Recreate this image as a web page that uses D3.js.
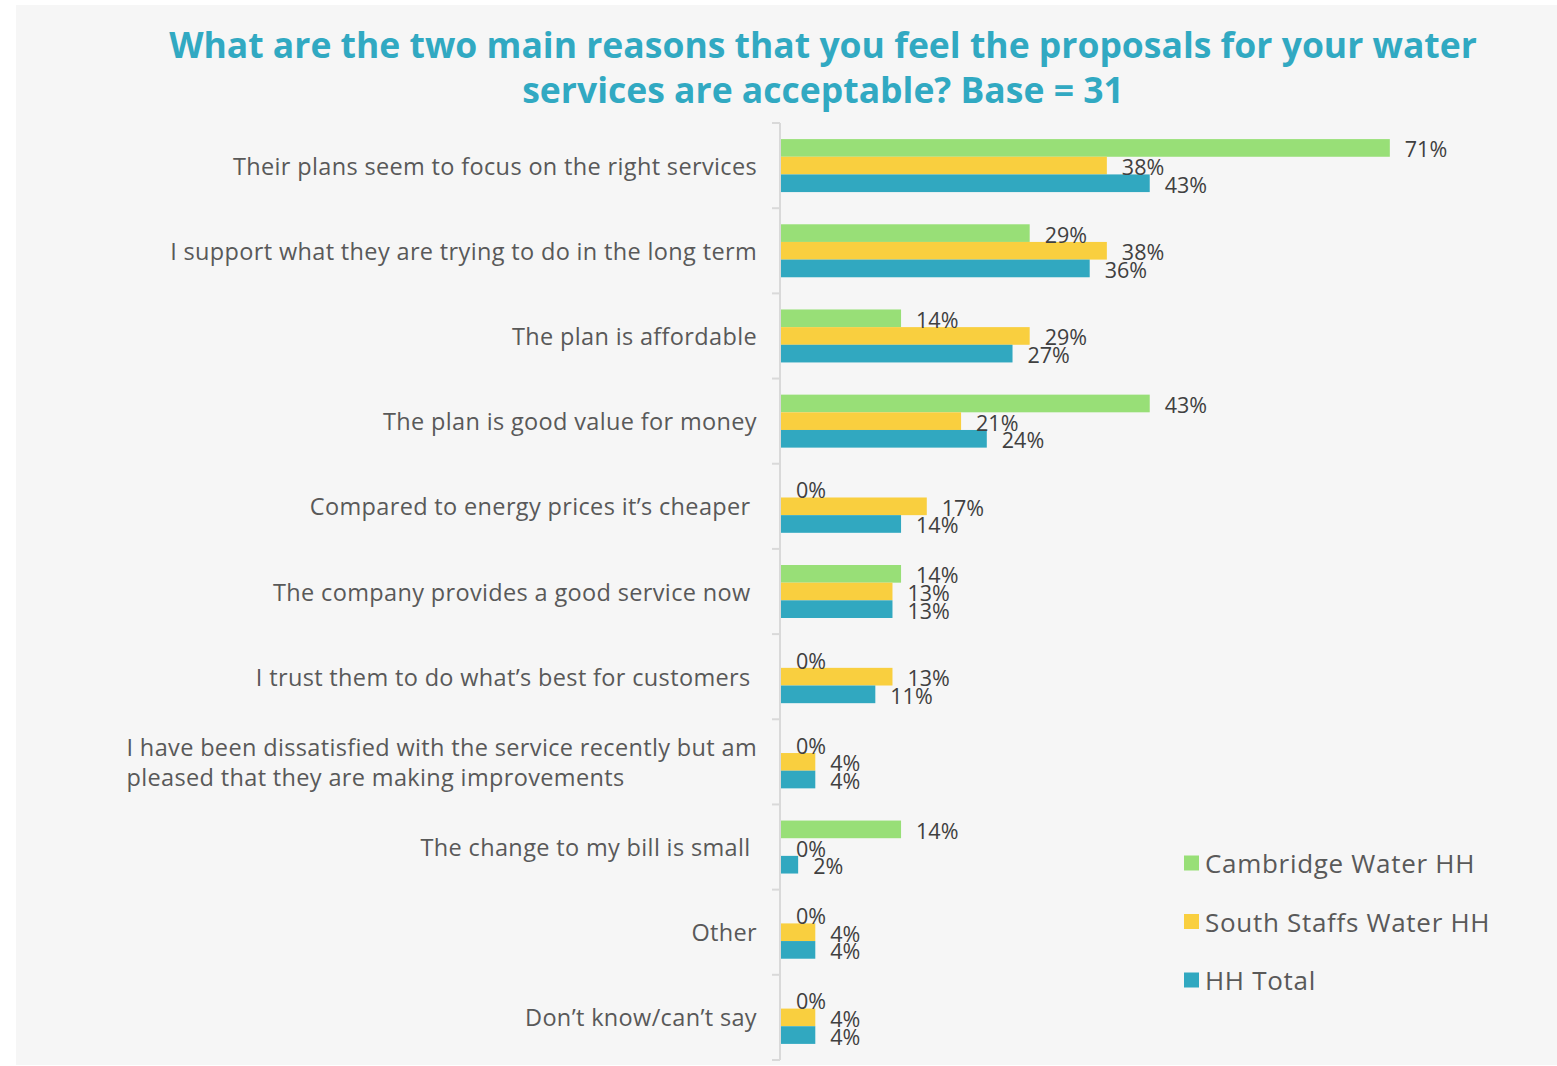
<!DOCTYPE html>
<html>
<head>
<meta charset="utf-8">
<script src="https://cdn.jsdelivr.net/npm/d3@7"></script>
<style>
  html, body { margin: 0; padding: 0; background: #ffffff; }
  svg { display: block; }
  text { font-family: "Open Sans", "DejaVu Sans", sans-serif; }
</style>
</head>
<body>
<svg id="chart" width="1557" height="1066"></svg>
<script>
// Survey answers, percentage of respondents per group
const categories = [
  "Their plans seem to focus on the right services",
  "I support what they are trying to do in the long term",
  "The plan is affordable",
  "The plan is good value for money",
  "Compared to energy prices it’s cheaper ",
  "The company provides a good service now ",
  "I trust them to do what’s best for customers ",
  "I have been dissatisfied with the service recently but am\npleased that they are making improvements",
  "The change to my bill is small ",
  "Other",
  "Don’t know/can’t say"
];
const seriesNames = ["Cambridge Water HH", "South Staffs Water HH", "HH Total"];
const cambridge   = [71, 29, 14, 43, 0, 14, 0, 0, 14, 0, 0];
const southStaffs = [38, 38, 29, 21, 17, 13, 13, 4, 0, 4, 4];
const hhTotal     = [43, 36, 27, 24, 14, 13, 11, 4, 2, 4, 4];
const seriesColors = ["#98df77", "#f9cf3f", "#31a8c0"];
const titleLines = [
  "What are the two main reasons that you feel the proposals for your water",
  "services are acceptable? Base = 31"
];

const seriesValues = [cambridge, southStaffs, hhTotal];
const rows = categories.map((c, i) => ({
  category: c,
  values: seriesNames.map((s, k) => ({ series: s, value: seriesValues[k][i], color: seriesColors[k] }))
}));

const svg = d3.select("#chart");

// panel background
svg.append("rect")
  .attr("x", 16).attr("y", 5).attr("width", 1541).attr("height", 1060)
  .attr("fill", "#f6f6f6");

// title
svg.append("g").selectAll("text").data(titleLines).join("text")
  .attr("x", 823)
  .attr("y", (d, i) => 58 + i * 45)
  .attr("text-anchor", "middle")
  .attr("font-size", 35.5)
  .attr("font-weight", 700)
  .attr("fill", "#31a9c2")
  .text(d => d);

// scales
const x = d3.scaleLinear().domain([0, 80]).range([780, 1466]);
const y = d3.scaleBand().domain(categories).range([123, 1060])
  .paddingInner(0.378).paddingOuter(0.189);
const ySub = d3.scaleBand().domain(seriesNames).range([0, y.bandwidth()]);

// category axis: line with ticks between categories
const axisG = svg.append("g");
axisG.append("line")
  .attr("x1", x(0)).attr("x2", x(0))
  .attr("y1", y.range()[0]).attr("y2", y.range()[1])
  .attr("stroke", "#d9d9d9").attr("stroke-width", 2);
const step = y.step();
axisG.selectAll("line.tick").data(d3.range(categories.length + 1)).join("line")
  .attr("class", "tick")
  .attr("x1", x(0) - 8).attr("x2", x(0))
  .attr("y1", i => y.range()[0] + i * step)
  .attr("y2", i => y.range()[0] + i * step)
  .attr("stroke", "#d9d9d9").attr("stroke-width", 2);

// category labels (right aligned; wrapped label keeps its lines left aligned)
const labelX = 757;
rows.forEach(r => {
  const lines = r.category.split("\n");
  const cy = y(r.category) + y.bandwidth() / 2;
  const lh = 30;
  const g = svg.append("g");
  const texts = lines.map((ln, j) => g.append("text")
    .attr("y", cy + (j - (lines.length - 1) / 2) * lh)
    .attr("dominant-baseline", "central")
    .attr("font-size", 23.5)
    .attr("letter-spacing", 0.35)
    .attr("fill", "#595959")
    .style("white-space", "pre")
    .text(ln));
  const widths = texts.map(t => t.node().getComputedTextLength());
  const w = d3.max(widths);
  texts.forEach(t => t.attr("x", labelX - w));
});

// bars
const groups = svg.append("g").selectAll("g").data(rows).join("g")
  .attr("transform", d => `translate(0,${y(d.category)})`);

groups.selectAll("rect").data(d => d.values).join("rect")
  .attr("x", x(0) + 1)
  .attr("y", d => ySub(d.series))
  .attr("width", d => Math.max(0, x(d.value) - x(0)))
  .attr("height", ySub.bandwidth())
  .attr("fill", d => d.color);

// value labels at the end of each bar
groups.selectAll("text").data(d => d.values).join("text")
  .attr("x", d => x(d.value) + 16)
  .attr("y", d => ySub(d.series) + ySub.bandwidth() / 2 + 1)
  .attr("dominant-baseline", "central")
  .attr("font-size", 21.5)
  .attr("fill", "#404040")
  .text(d => d3.format("d")(d.value) + "%");

// legend
const legend = svg.append("g").selectAll("g").data(seriesNames).join("g")
  .attr("transform", (d, i) => `translate(1184,${863 + i * 58.5})`);
legend.append("rect")
  .attr("x", 0).attr("y", -7.5).attr("width", 15).attr("height", 15)
  .attr("fill", (d, i) => seriesColors[i]);
legend.append("text")
  .attr("x", 21).attr("y", 0)
  .attr("dominant-baseline", "central")
  .attr("font-size", 26)
  .attr("letter-spacing", 0.7)
  .attr("fill", "#595959")
  .text(d => d);
</script>
</body>
</html>
